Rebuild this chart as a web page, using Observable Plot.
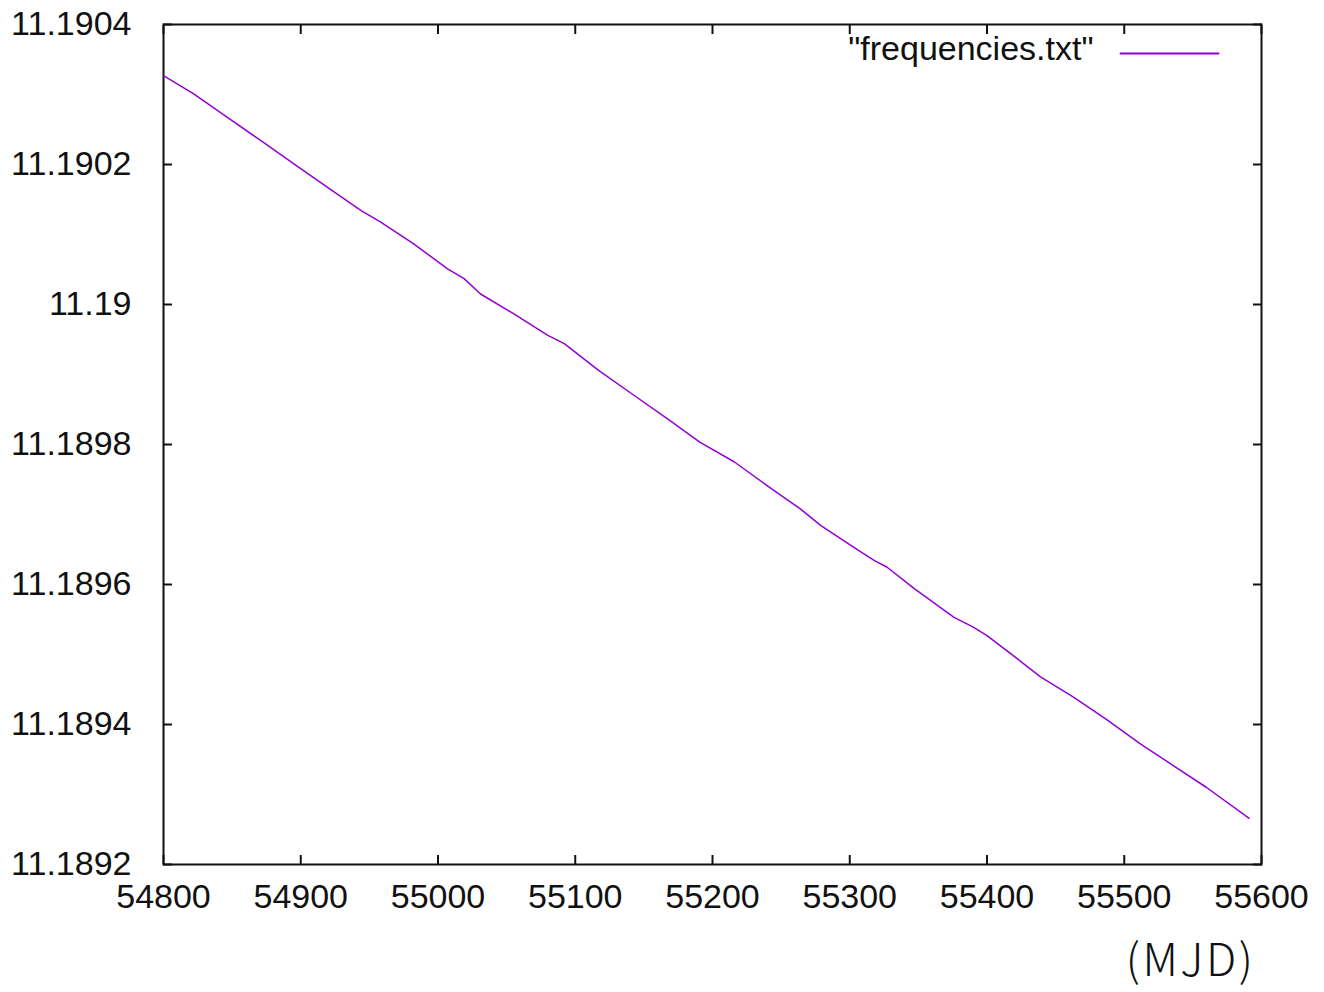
<!DOCTYPE html>
<html>
<head>
<meta charset="utf-8">
<script src="https://cdn.jsdelivr.net/npm/d3@7"></script>
<script src="https://cdn.jsdelivr.net/npm/@observablehq/plot@0.6"></script>
<style>
  html, body { margin: 0; padding: 0; background: #fff; }
  #chart svg { display: block; }
</style>
</head>
<body>
<div id="chart"></div>
<script>
// Spin frequency (Hz) against epoch (MJD)
const mjd = [54800, 54822, 54846, 54871, 54895, 54919, 54944, 54958, 54982, 55007,
             55019, 55031, 55055, 55080, 55092, 55117, 55143, 55167, 55191, 55216,
             55240, 55264, 55279, 55303, 55318, 55327, 55347, 55376, 55390, 55400,
             55424, 55439, 55463, 55488, 55512, 55536, 55560, 55591];
const freq = [11.190327, 11.190301, 11.190268, 11.190234, 11.190201, 11.190168, 11.190134, 11.190118, 11.190087, 11.190051,
              11.190037, 11.190015, 11.189987, 11.189956, 11.189944, 11.189906, 11.189870, 11.189837, 11.189803, 11.189775,
              11.189741, 11.189708, 11.189684, 11.189653, 11.189634, 11.189625, 11.189594, 11.189553, 11.189539, 11.189527,
              11.189491, 11.189468, 11.189439, 11.189406, 11.189372, 11.189341, 11.189310, 11.189266];

const xTicks = [54800, 54900, 55000, 55100, 55200, 55300, 55400, 55500, 55600];
const yTicks = [11.1892, 11.1894, 11.1896, 11.1898, 11.19, 11.1902, 11.1904];

const seriesName = "\"frequencies.txt\"";
const unitLabel = "(MJD)";
const lineColor = "#9400d3";

const data = mjd.map((m, i) => ({mjd: m, freq: freq[i]}));

// plain horizontal stroke used as the legend key
const keyShape = {draw(ctx, l) { ctx.moveTo(0, 0); ctx.lineTo(0, -l); }};

const chart = Plot.plot({
  width: 1324,
  height: 992,
  marginLeft: 163,
  marginRight: 63,
  marginTop: 24,
  marginBottom: 128,
  style: {fontFamily: "'Liberation Sans', Arial, sans-serif", fontSize: "34px", color: "#111", background: "#fff"},
  x: {domain: [54800, 55600]},
  y: {domain: [11.1892, 11.1904]},
  marks: [
    Plot.axisX(xTicks, {anchor: "bottom", tickSize: -9, tickPadding: 28, strokeWidth: 2, fontSize: 34,
                        tickFormat: d => String(d), label: null}),
    Plot.axisX(xTicks, {anchor: "top", tickSize: -9, strokeWidth: 2, tickFormat: () => "", label: null}),
    Plot.axisY(yTicks, {anchor: "left", tickSize: -9, tickPadding: 41, strokeWidth: 2, fontSize: 34,
                        tickFormat: d => String(d), label: null}),
    Plot.axisY(yTicks, {anchor: "right", tickSize: -9, strokeWidth: 2, tickFormat: () => "", label: null}),
    Plot.frame({stroke: "#111", strokeWidth: 2}),
    Plot.line(data, {x: "mjd", y: "freq", stroke: lineColor, strokeWidth: 1.5}),
    // legend entry in the upper right corner
    Plot.text([seriesName], {frameAnchor: "top-right", dx: -168, dy: 25, textAnchor: "end",
                             lineAnchor: "middle", fontSize: 34, fill: "#111"}),
    Plot.vector([seriesName], {frameAnchor: "top-right", dx: -43, dy: 29, rotate: 90, length: 98,
                               anchor: "end", shape: keyShape, stroke: lineColor, strokeWidth: 2}),
    // unit note under the x axis
    Plot.text([unitLabel], {frameAnchor: "bottom-right", dx: -6, dy: 97, textAnchor: "end",
                            lineAnchor: "middle", fontSize: 45, fontWeight: 300,
                            fontFamily: "'Noto Sans CJK JP', 'Noto Sans', sans-serif", fill: "#111"})
  ]
});

// open up the spacing of the unit note slightly
d3.select(chart).selectAll("text").filter(function () { return this.textContent === unitLabel; })
  .attr("letter-spacing", "2.5px");

document.getElementById("chart").appendChild(chart);
</script>
</body>
</html>
